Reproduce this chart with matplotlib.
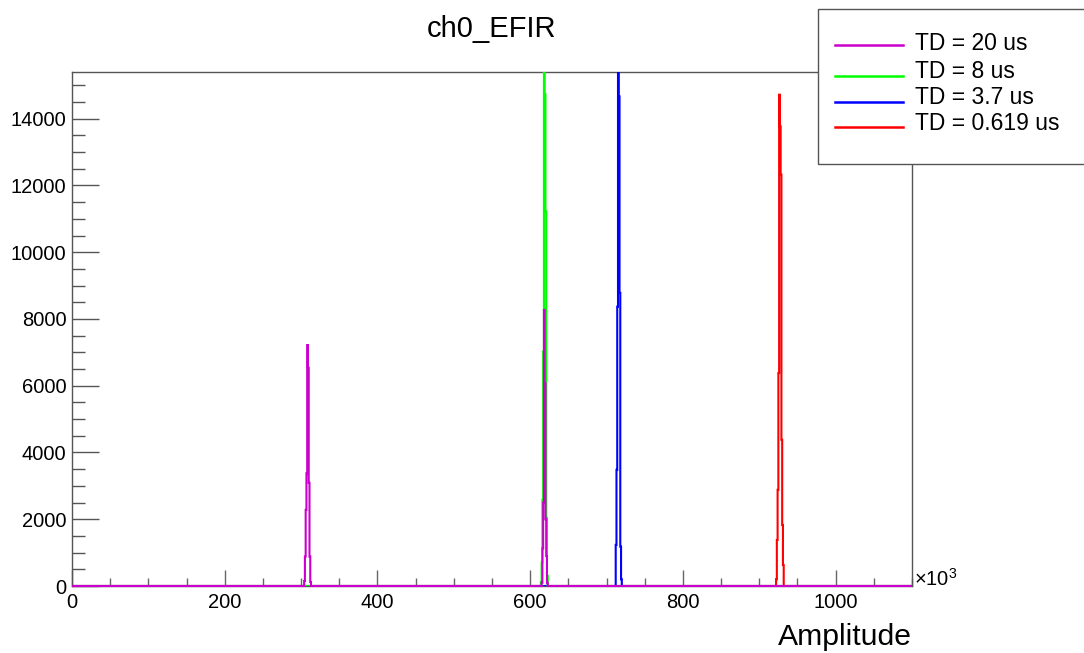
import numpy as np
import matplotlib
matplotlib.use("Agg")
import matplotlib.pyplot as plt
from matplotlib.patches import Rectangle
from matplotlib.lines import Line2D
from matplotlib.ticker import MultipleLocator

plt.rcParams['font.family'] = ['Liberation Sans', 'DejaVu Sans']
plt.rcParams['mathtext.fontset'] = 'custom'
plt.rcParams['mathtext.rm'] = 'Liberation Sans'

# ---- data (amplitude in units of 10^3, bin width 1) ----
title = "ch0_EFIR"
xlabel = "Amplitude"
labels = ["TD = 20 us", "TD = 8 us", "TD = 3.7 us", "TD = 0.619 us"]
colors = ["#cc00cc", "#00ff00", "#0000ff", "#ff0000"]

bin_lo, bin_hi, bin_w = 0, 1100, 1

# non-empty bins: first bin left edge and counts per series
td20_start_a = 304
td20_counts_a = [150, 880, 2280, 3380, 7220, 6540, 3090, 880, 120]
td20_start_b = 615
td20_counts_b = [100, 1130, 2500, 8270, 6080, 2000, 900, 100]
td8_start = 614
td8_counts = [120, 700, 2580, 7020, 17500, 14720, 11220, 2040, 300]
td37_start = 712
td37_counts = [1230, 3480, 8370, 17500, 14670, 8780, 1180, 200]
td0619_start = 922
td0619_counts = [200, 1380, 2880, 6380, 14720, 13770, 12320, 4380, 1830, 630]

edges = np.arange(bin_lo, bin_hi + bin_w, bin_w)
nb = len(edges) - 1


def make_hist(parts):
    h = np.zeros(nb)
    for start, counts in parts:
        i0 = int((start - bin_lo) / bin_w)
        h[i0:i0 + len(counts)] += counts
    return h


hists = [
    make_hist([(td20_start_a, td20_counts_a), (td20_start_b, td20_counts_b)]),
    make_hist([(td8_start, td8_counts)]),
    make_hist([(td37_start, td37_counts)]),
    make_hist([(td0619_start, td0619_counts)]),
]

W, H = 1084, 653
fig = plt.figure(figsize=(W / 100, H / 100), dpi=100)
ax = fig.add_axes([72 / W, 1 - 586 / H, (912 - 72) / W, (586 - 72) / H])

# draw: red, blue, green, magenta last (on top)
for idx in [3, 2, 1, 0]:
    ax.stairs(hists[idx], edges, color=colors[idx], lw=1.5,
              zorder=3 + (3 - idx), clip_on=(idx != 0))

ax.set_xlim(0, 1100)
ax.set_ylim(0, 15400)
ax.xaxis.set_major_locator(MultipleLocator(200))
ax.xaxis.set_minor_locator(MultipleLocator(50))
ax.yaxis.set_major_locator(MultipleLocator(2000))
ax.yaxis.set_minor_locator(MultipleLocator(500))
ax.tick_params(axis='x', which='major', direction='in', length=11.3, width=1,
               color='#666666', labelsize=14.5, pad=5)
ax.tick_params(axis='x', which='minor', direction='in', length=6, width=1,
               color='#666666')
ax.tick_params(axis='y', which='major', direction='in', length=19.2, width=1,
               color='#555555', labelsize=14.5, pad=4)
ax.tick_params(axis='y', which='minor', direction='in', length=9.6, width=1,
               color='#555555')
for sp in ax.spines.values():
    sp.set_color('#555555')
    sp.set_linewidth(1)
    sp.set_zorder(2.5)

fig.text(492 / W, 1 - 29 / H, title, ha='center', va='center', fontsize=21)
fig.text(912 / W, 1 - 645 / H, xlabel, ha='right', va='baseline', fontsize=21.7)
fig.text(914 / W, 1 - 586 / H, r'$\mathregular{\times10^{3}}$', ha='left',
         va='baseline', fontsize=14.5)

# legend box
fig.add_artist(Rectangle((818 / W, 1 - 164 / H), (1100 - 818) / W, (164 - 9) / H,
                         transform=fig.transFigure, facecolor='white',
                         edgecolor='#555555', lw=1, zorder=10))
line_y = [45, 76, 102, 127]
text_y = [49.5, 77.5, 104, 130.5]
for lab, col, ly, ty in zip(labels, colors, line_y, text_y):
    fig.add_artist(Line2D([835 / W, 903 / W], [1 - ly / H, 1 - ly / H],
                          transform=fig.transFigure, color=col, lw=1.8, zorder=11))
    fig.text(915 / W, 1 - ty / H, lab, ha='left', va='baseline', fontsize=16.5,
             zorder=12)

fig.savefig("out.png", dpi=100)
